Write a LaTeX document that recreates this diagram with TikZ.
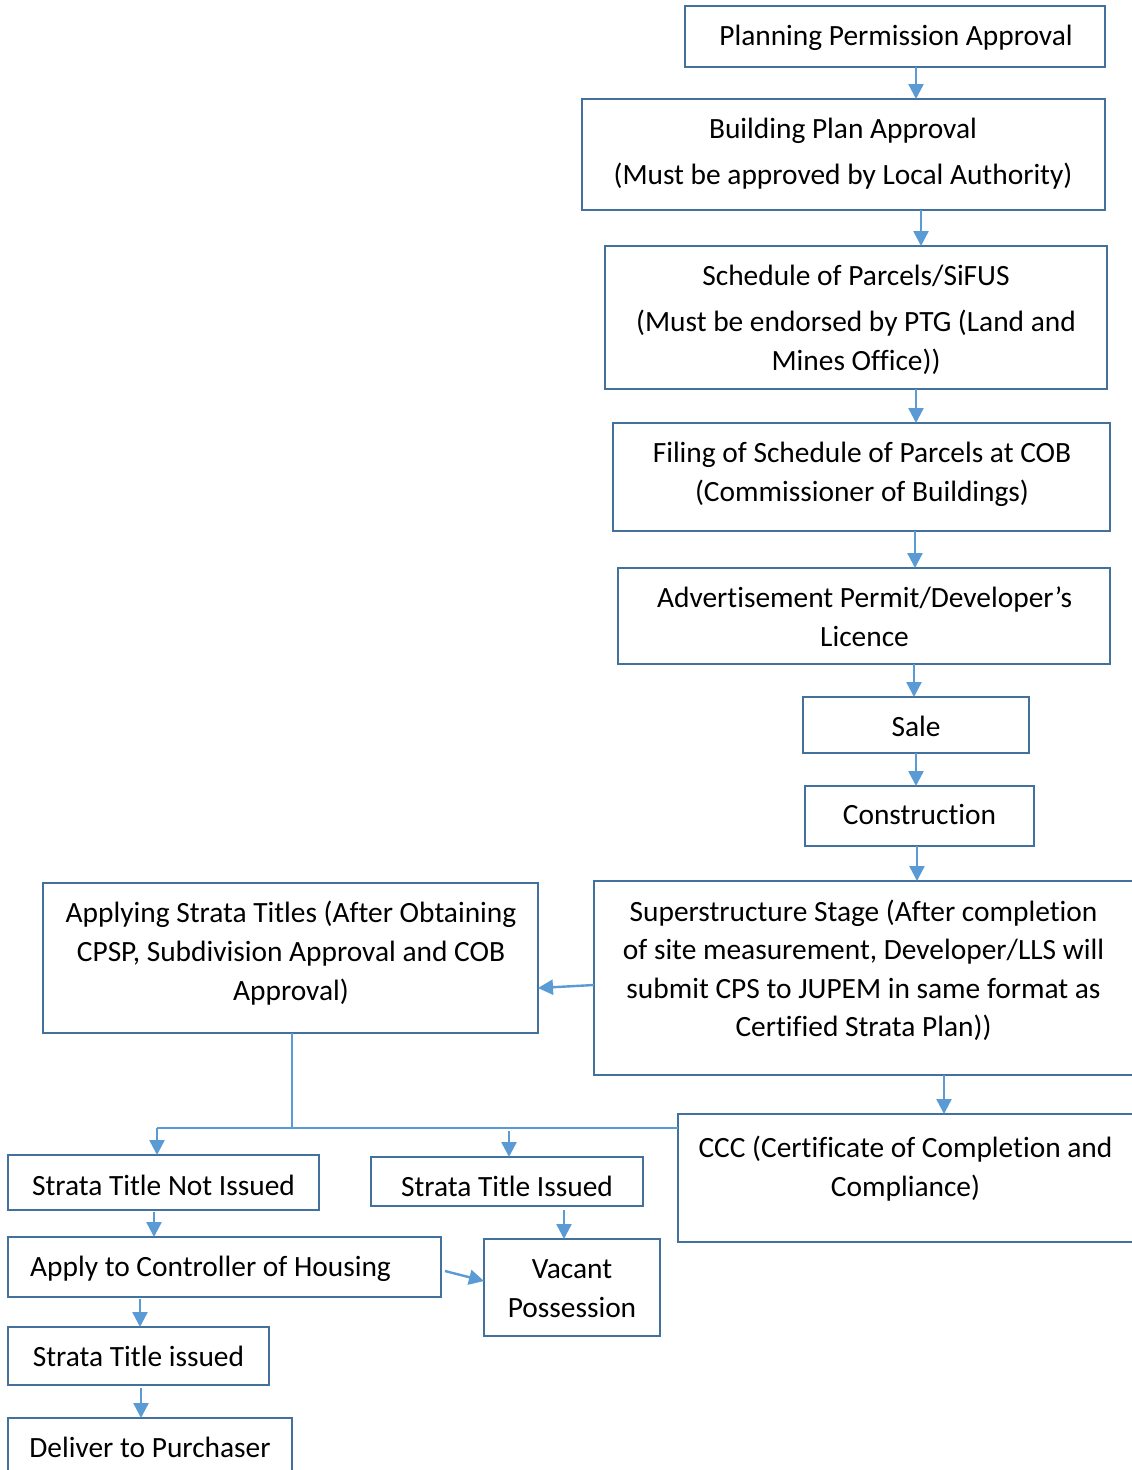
\documentclass[tikz,border=0pt]{standalone}
\usepackage{fontspec}
\setmainfont{Carlito}[Ligatures=NoCommon]
\usetikzlibrary{arrows.meta}
\definecolor{boxline}{HTML}{41719C}
\definecolor{arrline}{HTML}{5B9BD5}
\tikzset{
  stepbox/.style={draw=boxline, line width=2.4pt, rectangle, inner sep=0pt, outer sep=0pt, fill=none},
  txt/.style={anchor=base, inner sep=0pt, font=\fontsize{29.4}{35}\selectfont},
  txtl/.style={anchor=base west, inner sep=0pt, font=\fontsize{29.4}{35}\selectfont},
  arr/.style={draw=arrline, line width=2.4pt, -{Triangle[length=15pt,width=15pt]}},
  link/.style={draw=arrline, line width=1.3pt}
}
\begin{document}
\begin{tikzpicture}[x=1pt,y=-1pt]
\useasboundingbox (0,0) rectangle (1132,1470);
\fill[white] (0,0) rectangle (1132,1470);

% boxes
\node[stepbox, minimum width=420pt, minimum height=61pt]  (b1)  at (895,36.5) {};
\node[stepbox, minimum width=523pt, minimum height=111pt] (b2)  at (843.5,154.5) {};
\node[stepbox, minimum width=502pt, minimum height=143pt] (b3)  at (856,317.5) {};
\node[stepbox, minimum width=497pt, minimum height=108pt] (b4)  at (861.5,477) {};
\node[stepbox, minimum width=492pt, minimum height=96pt]  (b5)  at (864,616) {};
\node[stepbox, minimum width=226pt, minimum height=56pt]  (b6)  at (916,725) {};
\node[stepbox, minimum width=229pt, minimum height=60pt]  (b7)  at (919.5,816) {};
\node[stepbox, minimum width=539pt, minimum height=194pt] (b8)  at (863.5,978) {};
\node[stepbox, minimum width=495pt, minimum height=150pt] (b9)  at (290.5,958) {};
\node[stepbox, minimum width=456pt, minimum height=128pt] (b10) at (906,1178) {};
\node[stepbox, minimum width=311pt, minimum height=55pt]  (b11) at (163.5,1182.5) {};
\node[stepbox, minimum width=272pt, minimum height=49pt]  (b12) at (507,1181.5) {};
\node[stepbox, minimum width=433pt, minimum height=60pt]  (b13) at (224.5,1267) {};
\node[stepbox, minimum width=176pt, minimum height=97pt]  (b14) at (572,1287.5) {};
\node[stepbox, minimum width=261pt, minimum height=58pt]  (b15) at (138.5,1356) {};
\node[stepbox, minimum width=284pt, minimum height=56pt]  (b16) at (150,1446) {};

% box texts, one node per line
\node[txt] (t1)  at (896,45) {Planning Permission Approval};
\node[txt] (t2a) at (843,138) {Building Plan Approval};
\node[txt] (t2b) at (843,184) {(Must be approved by Local Authority)};
\node[txt] (t3a) at (856,285) {Schedule of Parcels/SiFUS};
\node[txt] (t3b) at (856,331) {(Must be endorsed by PTG (Land and};
\node[txt] (t3c) at (856,370) {Mines Office))};
\node[txt] (t4a) at (862,462) {Filing of Schedule of Parcels at COB};
\node[txt] (t4b) at (862,501) {(Commissioner of Buildings)};
\node[txt] (t5a) at (864.5,607) {Advertisement Permit/Developer’s};
\node[txt] (t5b) at (864.5,646) {Licence};
\node[txt] (t6)  at (916,736) {Sale};
\node[txt] (t7)  at (919.5,824) {Construction};
\node[txt] (t8a) at (863.5,921) {Superstructure Stage (After completion};
\node[txt] (t8b) at (863.5,959) {of site measurement, Developer/LLS will};
\node[txt] (t8c) at (863.5,998) {submit CPS to JUPEM in same format as};
\node[txt] (t8d) at (863.5,1036) {Certified Strata Plan))};
\node[txt] (t9a) at (291,922) {Applying Strata Titles (After Obtaining};
\node[txt] (t9b) at (291,961) {CPSP, Subdivision Approval and COB};
\node[txt] (t9c) at (291,1000) {Approval)};
\node[txt] (t10a) at (905.5,1157) {CCC (Certificate of Completion and};
\node[txt] (t10b) at (905.5,1196) {Compliance)};
\node[txt] (t11) at (163.5,1195) {Strata Title Not Issued};
\node[txt] (t12) at (507,1196) {Strata Title Issued};
\node[txtl] (t13) at (30,1276) {Apply to Controller of Housing};
\node[txt] (t14a) at (572,1278) {Vacant};
\node[txt] (t14b) at (572,1317) {Possession};
\node[txt] (t15) at (138.5,1366) {Strata Title issued};
\node[txt] (t16) at (150,1457) {Deliver to Purchaser};

% main vertical chain
\draw[arr] ([xshift=21pt]b1.south)   -- ([xshift=21pt]b1.south |- b2.north);
\draw[arr] ([xshift=77.5pt]b2.south) -- ([xshift=77.5pt]b2.south |- b3.north);
\draw[arr] ([xshift=60pt]b3.south)   -- ([xshift=60pt]b3.south |- b4.north);
\draw[arr] ([xshift=53.5pt]b4.south) -- ([xshift=53.5pt]b4.south |- b5.north);
\draw[arr] ([xshift=50pt]b5.south)   -- ([xshift=50pt]b5.south |- b6.north);
\draw[arr] (b6.south) -- (b6.south |- b7.north);
\draw[arr] ([xshift=-2.5pt]b7.south) -- ([xshift=-2.5pt]b7.south |- b8.north);

% superstructure stage outputs
\draw[arr] ([yshift=-7pt]b8.west) -- ([yshift=-30pt]b9.east);
\draw[arr] ([xshift=80.5pt]b8.south) -- ([xshift=80.5pt]b8.south |- b10.north);

% branching from strata title application
\coordinate (jn) at (292,1128);
\coordinate (jl) at (157,1128);
\coordinate (jm) at (509,1131);
\draw[link] ([xshift=1.5pt]b9.south) -- (jn);
\draw[link] (jl) -- (jn -| b10.west);
\draw[arr] (jl) -- (jl |- b11.north);
\draw[arr] (jm) -- (jm |- b12.north);

% lower steps
\draw[arr] ([xshift=57pt,yshift=-4pt]b12.south) -- ([xshift=57pt]b12.south |- b14.north);
\draw[arr] ([xshift=-9.5pt,yshift=-2pt]b11.south) -- ([xshift=-9.5pt]b11.south |- b13.north);
\draw[arr] ([xshift=4pt,yshift=-4pt]b13.east) -- ([yshift=6.5pt]b14.west);
\draw[arr] ([xshift=-84.5pt,yshift=-2pt]b13.south) -- ([xshift=-84.5pt]b13.south |- b15.north);
\draw[arr] ([xshift=2.5pt,yshift=-3pt]b15.south) -- ([xshift=2.5pt]b15.south |- b16.north);
\end{tikzpicture}
\end{document}
